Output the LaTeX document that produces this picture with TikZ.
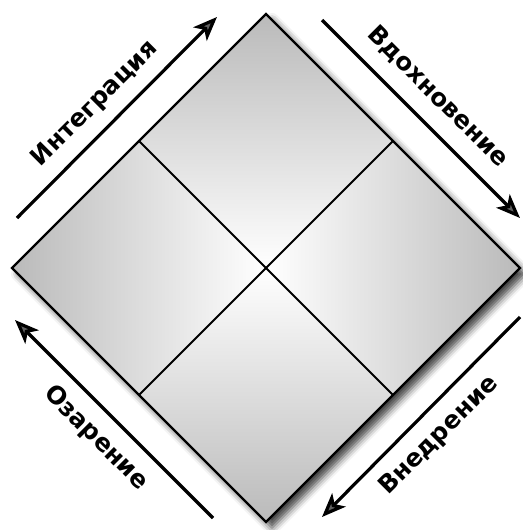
\documentclass[tikz,border=0pt]{standalone}
\usepackage{fontspec}
\newfontfamily\lblfont{DejaVu Sans}
\usetikzlibrary{arrows.meta,shadows.blur}
\definecolor{edgegray}{RGB}{186,186,186}
\tikzset{
  lbl/.style={font=\lblfont\bfseries\fontsize{24.5}{26}\selectfont, inner sep=0pt},
  flowarrow/.style={line width=3.2pt, -{Stealth[length=24pt,width=19pt,inset=6pt]}},
  outline/.style={line width=2.4pt, line join=miter},
  cross/.style={line width=2pt}
}
\begin{document}
\begin{tikzpicture}[x=1pt,y=-1pt]
\useasboundingbox (0,0) rectangle (522,530);
% diamond vertices
\coordinate (T) at (266,14);
\coordinate (R) at (520,268);
\coordinate (B) at (266,522);
\coordinate (L) at (12,268);
\coordinate (C) at (266,268);
\coordinate (TL) at (139,141);
\coordinate (TR) at (393,141);
\coordinate (BR) at (393,395);
\coordinate (BL) at (139,395);
% shadow
\path[fill=white, blur shadow={shadow xshift=6pt, shadow yshift=-6pt, shadow blur radius=7pt, shadow opacity=75}] (T) -- (R) -- (B) -- (L) -- cycle;
% quadrants
\shade[top color=edgegray, bottom color=white] (T) -- (TR) -- (C) -- (TL) -- cycle;
\shade[left color=white, right color=edgegray] (TR) -- (R) -- (BR) -- (C) -- cycle;
\shade[top color=white, bottom color=edgegray] (C) -- (BR) -- (B) -- (BL) -- cycle;
\shade[left color=edgegray, right color=white] (TL) -- (C) -- (BL) -- (L) -- cycle;
% lines
\draw[cross] (TL) -- (BR);
\draw[cross] (TR) -- (BL);
\draw[outline] (T) -- (R) -- (B) -- (L) -- cycle;
% arrows
\coordinate (a1s) at (17,218);
\coordinate (a1e) at (217,17);
\coordinate (a2s) at (322,20);
\coordinate (a2e) at (520,218);
\coordinate (a3s) at (520,317);
\coordinate (a3e) at (322,517);
\coordinate (a4s) at (213,518);
\coordinate (a4e) at (15,320);
\draw[flowarrow] (a1s) -- (a1e);
\draw[flowarrow] (a2s) -- (a2e);
\draw[flowarrow] (a3s) -- (a3e);
\draw[flowarrow] (a4s) -- (a4e);
% labels
\node[lbl, rotate=45] (integ) at (95,104) {Интеграция};
\node[lbl, rotate=-45] (vdoh) at (438,97) {Вдохновение};
\node[lbl, rotate=45] (vned) at (439,436) {Внедрение};
\node[lbl, rotate=-45] (ozar) at (96,438) {Озарение};
\end{tikzpicture}
\end{document}
